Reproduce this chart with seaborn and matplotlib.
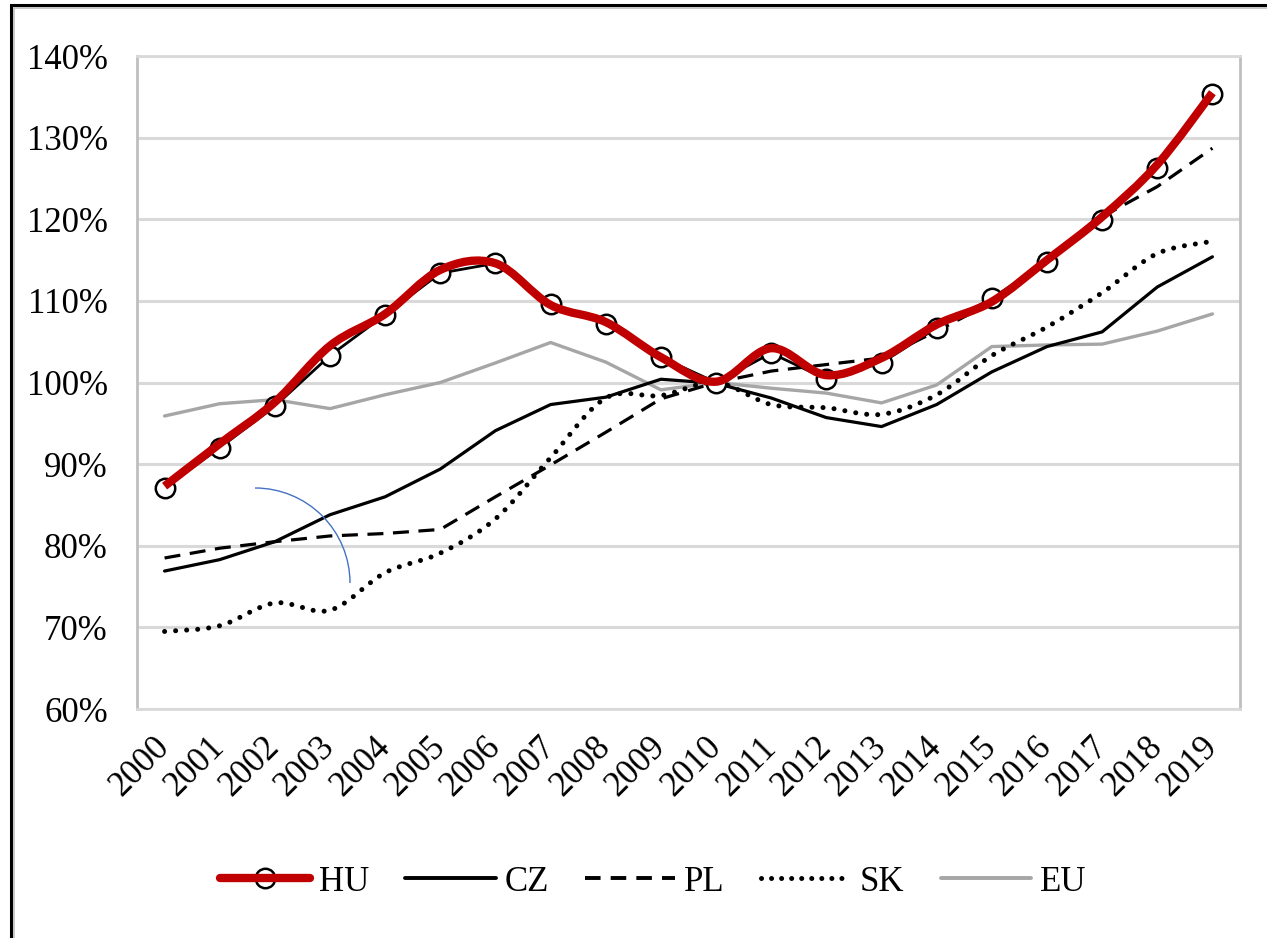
import numpy as np
import pandas as pd
import matplotlib
matplotlib.use("Agg")
import matplotlib.pyplot as plt
import seaborn as sns
from matplotlib.path import Path
from matplotlib.patches import PathPatch, Arc, Rectangle
from matplotlib.lines import Line2D
from matplotlib.legend_handler import HandlerTuple

years = [str(y) for y in range(2000, 2020)]
hu = [87.1, 92.0, 97.1, 103.3, 108.3, 113.4, 114.6, 109.6, 107.2, 103.1,
      100.0, 103.6, 100.4, 102.4, 106.7, 110.3, 114.8, 119.9, 126.3, 135.4]
hu_smooth = [87.3, 92.5, 97.6, 104.5, 108.4, 113.8, 114.6, 109.5, 107.4, 103.1,
             100.1, 104.2, 100.9, 103.0, 107.1, 109.9, 115.0, 120.3, 126.7, 135.5]
cz = [76.9, 78.3, 80.5, 83.8, 86.0, 89.4, 94.1, 97.3, 98.2, 100.4,
      99.9, 98.1, 95.7, 94.6, 97.3, 101.3, 104.4, 106.2, 111.7, 115.4]
pl = [78.5, 79.7, 80.5, 81.2, 81.5, 82.0, 86.0, 89.9, 93.9, 98.0,
      100.0, 101.4, 102.2, 103.0, 106.3, 109.8, 114.6, 120.3, 124.0, 128.7]
sk = [69.5, 70.2, 73.0, 72.1, 76.7, 79.1, 83.3, 90.8, 98.1, 98.4,
      100.0, 97.3, 96.9, 96.1, 98.5, 103.3, 106.8, 111.0, 115.8, 117.3]
eu = [95.9, 97.4, 97.9, 96.8, 98.5, 100.0, 102.4, 104.9, 102.5, 99.1,
      100.0, 99.3, 98.7, 97.5, 99.7, 104.4, 104.6, 104.7, 106.3, 108.4]
yticks = [60, 70, 80, 90, 100, 110, 120, 130, 140]

sns.set_theme(style="white")
plt.rcParams["font.family"] = ["Liberation Serif", "DejaVu Serif"]
plt.rcParams["text.color"] = "black"
plt.rcParams["xtick.color"] = "black"
plt.rcParams["ytick.color"] = "black"

RED = "#C00000"
GRAY = "#A6A6A6"
GRID = "#D9D9D9"
FS = 25

fig = plt.figure(figsize=(12.67, 9.38), dpi=100)
ax = fig.add_axes([137 / 1267, 1 - 709 / 938, (1240 - 137) / 1267, (709 - 56) / 938])

df = pd.DataFrame({"x": np.arange(len(years)), "HU": hu, "CZ": cz, "PL": pl, "SK": sk, "EU": eu})

def smooth_patch(values, **kw):
    pts = np.column_stack([np.arange(len(values), dtype=float), np.asarray(values, dtype=float)])
    n = len(pts)
    verts = [pts[0]]
    codes = [Path.MOVETO]
    for i in range(n - 1):
        p_prev = pts[max(i - 1, 0)]
        p_next2 = pts[min(i + 2, n - 1)]
        c1 = pts[i] + (pts[i + 1] - p_prev) / 6.0
        c2 = pts[i + 1] - (p_next2 - pts[i]) / 6.0
        verts += [c1, c2, pts[i + 1]]
        codes += [Path.CURVE4] * 3
    return PathPatch(Path(verts, codes), fill=False, transform=ax.transData, **kw)

dash = (0, (5, 3))
dot = (0, (0.01, 2.2))

sns.lineplot(data=df, x="x", y="EU", ax=ax, color=GRAY, lw=2.4, zorder=3, legend=False)
sns.lineplot(data=df, x="x", y="CZ", ax=ax, color="black", lw=2.3, zorder=4, legend=False)
sns.lineplot(data=df, x="x", y="PL", ax=ax, color="black", lw=2.3, zorder=4, legend=False)
ax.lines[-1].set_linestyle(dash)
ax.add_patch(smooth_patch(sk, edgecolor="black", lw=3.6, linestyle=dot, capstyle="round", zorder=4))
sns.lineplot(data=df, x="x", y="HU", ax=ax, color="black", lw=2.0, zorder=5, legend=False,
             marker="o", markersize=14, markerfacecolor="white", markeredgecolor="black",
             markeredgewidth=1.8)
ax.add_patch(smooth_patch(hu_smooth, edgecolor=RED, lw=6, capstyle="butt", zorder=6))

ax.set_xlim(-0.5, len(years) - 0.5)
ax.set_ylim(60, 140)
ax.set_yticks(yticks)
ax.set_yticklabels([f"{v}%" for v in yticks], fontsize=FS, color="black")
ax.set_xticks(np.arange(len(years)))
ax.set_xticklabels(years, fontsize=FS, rotation=45, ha="right", va="center",
                   rotation_mode="anchor", color="black")
ax.tick_params(axis="y", length=0, pad=21)
ax.tick_params(axis="x", length=0, pad=24)
ax.set_xlabel("")
ax.set_ylabel("")
ax.grid(axis="y", color=GRID, lw=2.2, zorder=0)
ax.set_axisbelow(True)
for s in ax.spines.values():
    s.set_color("#BFBFBF")
    s.set_linewidth(2.0)
ax.spines["top"].set_color(GRID)
ax.spines["bottom"].set_color(GRID)

# stray arc shape
ax.add_patch(Arc(((255 - 137) / 1103, (709 - 583) / 653), 2 * 95 / 1103, 2 * 95 / 653,
                 theta1=0, theta2=90, transform=ax.transAxes, color="#4472C4", lw=1.0, zorder=7))

# outer frame
fig.add_artist(Rectangle((11 / 1267, -0.05), 1.1, 1 - 5 / 938 + 0.05, transform=fig.transFigure,
                         fill=False, edgecolor="black", lw=2.2))
fig.add_artist(Rectangle((14 / 1267, -0.05), 1.1, 1 - 8 / 938 + 0.05, transform=fig.transFigure,
                         fill=False, edgecolor="#BFBFBF", lw=1.2))

h_hu = (Line2D([], [], color="black", lw=2.0, marker="o", markersize=14, markerfacecolor="white",
               markeredgecolor="black", markeredgewidth=1.8),
        Line2D([], [], color=RED, lw=6))
h_cz = Line2D([], [], color="black", lw=2.8)
h_pl = Line2D([], [], color="black", lw=2.8, linestyle=(0, (4, 2.6)))
h_sk = Line2D([], [], color="black", lw=3.6, linestyle=(0, (0.01, 2.0)), dash_capstyle="round")
h_eu = Line2D([], [], color=GRAY, lw=2.8)
leg = fig.legend([h_hu, h_cz, h_pl, h_sk, h_eu], ["HU", "CZ", "PL", "SK", "EU"],
                 handler_map={tuple: HandlerTuple(ndivide=1)},
                 loc="center", bbox_to_anchor=(653 / 1267, 1 - 882 / 938), ncol=5, frameon=False,
                 fontsize=FS, handlelength=2.6, handletextpad=0.25, columnspacing=1.05)
for t in leg.get_texts():
    t.set_color("black")

fig.savefig("out.png", dpi=100)
